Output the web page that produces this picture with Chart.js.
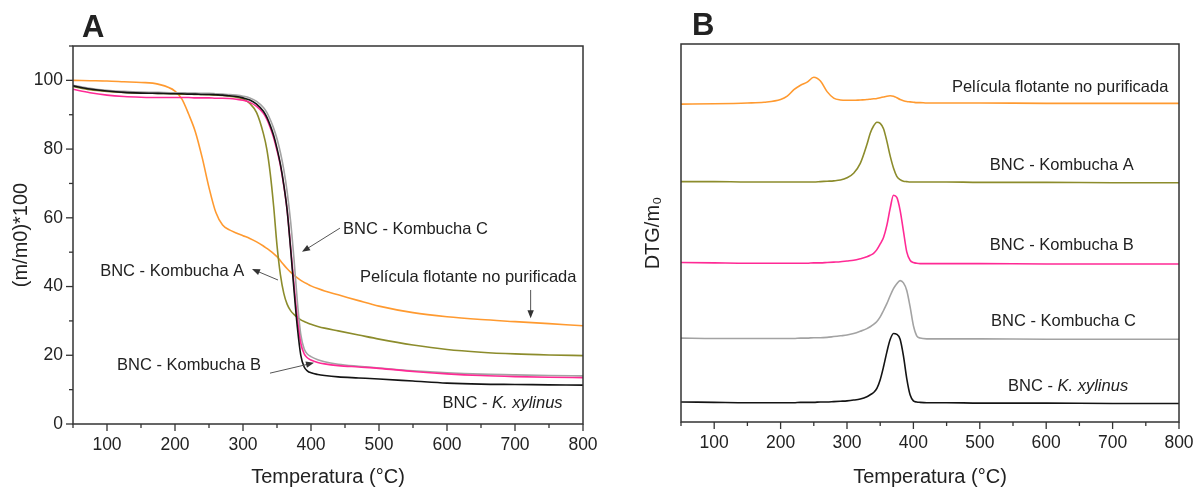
<!DOCTYPE html>
<html lang="es">
<head>
<meta charset="UTF-8">
<title>TGA / DTG</title>
<script src="https://cdn.jsdelivr.net/npm/chart.js@4.4.0/dist/chart.umd.min.js"></script>
<style>
    body { margin: 0; background: #fff; }
    .wrap { position: relative; width: 1201px; height: 491px; }
    .panel { position: absolute; top: 0; }
</style>
</head>
<body>
<div class="wrap">
    <div class="panel" style="left:0"><canvas id="chartA" width="600" height="491"></canvas></div>
    <div class="panel" style="left:600px"><canvas id="chartB" width="601" height="491"></canvas></div>
</div>
<script>
// ---- panel A: TGA, (m/m0)*100 vs temperature
const tempA = [50, 75, 100, 125, 150, 175, 200, 210, 220, 230, 240, 250, 260, 270, 280, 290, 300,
    310, 320, 330, 335, 340, 345, 350, 355, 360, 365, 370, 375, 380, 385, 390, 395, 400,
    410, 420, 440, 470, 500, 550, 600, 650, 700, 750, 800];
const tgaPelicula = [100.0, 99.9, 99.8, 99.6, 99.4, 98.9, 96.9, 94.6, 90.2, 85.0, 77.5, 68.8, 61.6, 57.9, 56.5, 55.6, 54.8,
    54.0, 53.0, 51.8, 51.1, 50.4, 49.6, 48.7, 47.5, 46.3, 45.2, 44.2, 43.3, 42.5, 41.8, 41.2, 40.7, 40.2,
    39.4, 38.7, 37.6, 35.9, 34.3, 32.4, 31.2, 30.4, 29.8, 29.2, 28.6];
const tgaKombuchaA = [98.2, 97.3, 96.8, 96.5, 96.3, 96.2, 96.1, 96.0, 96.0, 95.9, 95.9, 95.8, 95.7, 95.6, 95.4, 95.1, 94.6,
    93.3, 90.6, 84.5, 80.0, 73.0, 63.5, 52.0, 43.5, 38.0, 34.8, 33.0, 31.9, 31.0, 30.3, 29.8, 29.4, 29.0,
    28.4, 27.9, 27.1, 25.9, 24.7, 23.0, 21.7, 20.9, 20.4, 20.1, 19.9];
const tgaKombuchaB = [97.4, 96.4, 95.7, 95.3, 95.1, 95.0, 95.0, 95.0, 95.0, 94.9, 94.9, 94.9, 94.8, 94.8, 94.7, 94.5, 94.2,
    93.6, 92.4, 90.4, 88.7, 86.3, 83.4, 79.6, 75.2, 69.4, 62.0, 51.5, 40.5, 30.5, 23.5, 20.4, 19.2, 18.6,
    17.9, 17.5, 17.0, 16.6, 16.2, 15.3, 14.6, 14.1, 13.8, 13.6, 13.5];
const tgaKombuchaC = [98.6, 97.7, 97.1, 96.8, 96.6, 96.5, 96.4, 96.4, 96.3, 96.3, 96.2, 96.2, 96.1, 96.0, 95.9, 95.7, 95.4,
    94.9, 93.9, 92.1, 90.7, 88.6, 86.1, 83.0, 79.0, 74.0, 67.5, 59.0, 48.0, 35.5, 26.0, 21.8, 20.3, 19.6,
    18.7, 18.1, 17.4, 16.8, 16.3, 15.5, 14.9, 14.5, 14.3, 14.1, 14.0];
const tgaXylinus = [98.4, 97.5, 96.9, 96.5, 96.3, 96.2, 96.1, 96.1, 96.0, 96.0, 95.9, 95.9, 95.8, 95.7, 95.5, 95.3, 94.9,
    94.3, 93.1, 91.0, 89.3, 86.9, 84.0, 80.2, 75.6, 69.6, 62.0, 51.0, 39.0, 28.0, 20.0, 16.6, 15.4, 14.9,
    14.4, 14.1, 13.7, 13.4, 13.1, 12.5, 11.9, 11.6, 11.5, 11.4, 11.3];

// ---- panel B: DTG curves, stacked as in the figure (arbitrary units)
const tempB = [50, 100, 150, 175, 200, 210, 220, 230, 240, 250, 260, 270, 280, 290, 300, 310, 320, 330,
    335, 340, 345, 350, 355, 360, 365, 370, 375, 380, 385, 390, 395, 400, 405, 410,
    420, 450, 500, 600, 700, 800];
const dtgPelicula = [84.1, 84.2, 84.4, 84.6, 85.3, 86.2, 87.9, 89.1, 89.9, 91.2, 90.2, 87.4, 85.7, 85.2, 85.1, 85.1, 85.2, 85.3,
    85.4, 85.5, 85.6, 85.8, 86.0, 86.2, 86.3, 86.2, 85.8, 85.3, 85.0, 84.8, 84.7, 84.6, 84.5, 84.5,
    84.4, 84.4, 84.4, 84.3, 84.3, 84.3];
const dtgKombuchaA = [63.6, 63.6, 63.5, 63.5, 63.5, 63.5, 63.5, 63.5, 63.5, 63.5, 63.6, 63.7, 63.8, 64.0, 64.6, 65.8, 68.4, 73.4,
    76.4, 78.3, 79.3, 79.0, 77.6, 74.3, 70.4, 67.2, 65.0, 64.1, 63.7, 63.6, 63.5, 63.5, 63.5, 63.5,
    63.5, 63.5, 63.4, 63.4, 63.3, 63.3];
const dtgKombuchaB = [42.2, 42.1, 42.0, 42.0, 42.0, 42.0, 42.0, 42.0, 42.0, 42.1, 42.1, 42.2, 42.3, 42.4, 42.6, 42.8, 43.2, 43.7,
    44.1, 44.6, 45.6, 47.1, 48.8, 52.0, 56.5, 60.0, 59.4, 56.0, 50.5, 45.0, 42.8, 42.2, 42.0, 41.9,
    41.9, 41.9, 41.9, 41.8, 41.8, 41.8];
const dtgKombuchaC = [22.2, 22.1, 22.1, 22.1, 22.1, 22.1, 22.1, 22.2, 22.2, 22.3, 22.3, 22.4, 22.6, 22.8, 23.0, 23.4, 24.0, 24.7,
    25.2, 25.8, 26.6, 27.8, 29.5, 31.3, 33.4, 35.3, 36.6, 37.4, 36.8, 34.8, 30.5, 25.5, 22.8, 22.2,
    22.0, 22.0, 22.0, 21.9, 21.9, 21.9];
const dtgXylinus = [5.3, 5.2, 5.1, 5.1, 5.1, 5.1, 5.1, 5.2, 5.2, 5.2, 5.3, 5.3, 5.4, 5.5, 5.6, 5.8, 6.1, 6.7,
    7.2, 7.8, 8.9, 11.2, 14.6, 18.5, 21.8, 23.4, 23.2, 21.9, 17.5, 11.5, 7.2, 5.6, 5.3, 5.2,
    5.1, 5.1, 5.0, 5.0, 4.9, 4.9];

const FONT = '"Liberation Sans", Arial, "DejaVu Sans", sans-serif';
const INK = '#222';

function pts(xs, ys) {
    return xs.map((x, i) => ({ x: x, y: ys[i] }));
}

function line(label, xs, ys, color) {
    return {
        label: label,
        data: pts(xs, ys),
        borderColor: color,
        borderWidth: 1.6,
        pointRadius: 0,
        cubicInterpolationMode: 'monotone',
        fill: false
    };
}

// frame round the plot + outward ticks (short minor / long major)
const framePlugin = {
    id: 'frame',
    afterDatasetsDraw(chart, args, opts) {
        const { ctx, chartArea: a, scales } = chart;
        ctx.save();
        ctx.strokeStyle = '#333';
        ctx.lineWidth = 1.5;
        ctx.strokeRect(a.left, a.top, a.right - a.left, a.bottom - a.top);
        ctx.lineWidth = 1.3;
        scales.x.ticks.forEach(t => {
            const px = scales.x.getPixelForValue(t.value);
            const len = t.value % 100 === 0 ? 7 : 4;
            ctx.beginPath();
            ctx.moveTo(px, a.bottom);
            ctx.lineTo(px, a.bottom + len);
            ctx.stroke();
        });
        if (opts.yTicks) {
            scales.y.ticks.forEach(t => {
                const py = scales.y.getPixelForValue(t.value);
                const len = t.value % 20 === 0 ? 7 : 4;
                ctx.beginPath();
                ctx.moveTo(a.left, py);
                ctx.lineTo(a.left - len, py);
                ctx.stroke();
            });
        }
        ctx.restore();
    }
};

// text labels, arrows and panel letter
const notesPlugin = {
    id: 'notes',
    afterDraw(chart, args, opts) {
        const { ctx, scales } = chart;
        ctx.save();
        ctx.fillStyle = INK;
        ctx.font = 'bold 31px ' + FONT;
        ctx.textBaseline = 'alphabetic';
        ctx.fillText(opts.letter, opts.letterX, opts.letterY);

        ctx.textBaseline = 'middle';
        (opts.items || []).forEach(n => {
            let x = scales.x.getPixelForValue(n.x);
            const y = scales.y.getPixelForValue(n.y);
            n.parts.forEach(p => {
                ctx.font = (p[1] === 'italic' ? 'italic ' : '') + '16.5px ' + FONT;
                ctx.fillText(p[0], x, y);
                x += ctx.measureText(p[0]).width;
            });
            if (n.arrow) {
                const x1 = scales.x.getPixelForValue(n.arrow[0]);
                const y1 = scales.y.getPixelForValue(n.arrow[1]);
                const x2 = scales.x.getPixelForValue(n.arrow[2]);
                const y2 = scales.y.getPixelForValue(n.arrow[3]);
                const ang = Math.atan2(y2 - y1, x2 - x1);
                ctx.strokeStyle = '#555';
                ctx.lineWidth = 1;
                ctx.beginPath();
                ctx.moveTo(x1, y1);
                ctx.lineTo(x2 - 6 * Math.cos(ang), y2 - 6 * Math.sin(ang));
                ctx.stroke();
                ctx.fillStyle = '#333';
                ctx.beginPath();
                ctx.moveTo(x2, y2);
                ctx.lineTo(x2 - 8 * Math.cos(ang) + 3.2 * Math.sin(ang), y2 - 8 * Math.sin(ang) - 3.2 * Math.cos(ang));
                ctx.lineTo(x2 - 8 * Math.cos(ang) - 3.2 * Math.sin(ang), y2 - 8 * Math.sin(ang) + 3.2 * Math.cos(ang));
                ctx.closePath();
                ctx.fill();
                ctx.fillStyle = INK;
            }
        });
        ctx.restore();
    }
};

function noEdgePadding(s) {
    s.paddingLeft = 0;
    s.paddingRight = 0;
    s.paddingTop = 0;
    s.paddingBottom = 0;
}

function xScale(height) {
    return {
        type: 'linear',
        min: 50,
        max: 800,
        grid: { display: false, drawTicks: false },
        border: { display: false },
        ticks: {
            stepSize: 50,
            autoSkip: false,
            maxRotation: 0,
            padding: 11,
            color: INK,
            font: { family: FONT, size: 17.5 },
            callback: v => (v % 100 === 0 ? String(v) : '')
        },
        title: {
            display: true,
            text: 'Temperatura (°C)',
            color: INK,
            font: { family: FONT, size: 20 },
            padding: { top: 0, bottom: 2 }
        },
        afterFit: s => { s.height = height; noEdgePadding(s); }
    };
}

const chartA = new Chart(document.getElementById('chartA'), {
    type: 'line',
    data: {
        datasets: [
            line('BNC - K. xylinus', tempA, tgaXylinus, '#141414'),
            line('BNC - Kombucha B', tempA, tgaKombuchaB, '#ff2a95'),
            line('BNC - Kombucha C', tempA, tgaKombuchaC, '#a3a3a3'),
            line('BNC - Kombucha A', tempA, tgaKombuchaA, '#8c8c2c'),
            line('Película flotante no purificada', tempA, tgaPelicula, '#ff9a30')
        ]
    },
    options: {
        responsive: false,
        animation: false,
        devicePixelRatio: 1,
        layout: { padding: { top: 46, right: 17, left: 0, bottom: 0 } },
        plugins: {
            legend: { display: false },
            tooltip: { enabled: false },
            frame: { yTicks: true },
            notes: {
                letter: 'A', letterX: 82, letterY: 37,
                items: [
                    { x: 447, y: 56.5, parts: [['BNC - Kombucha C', 'normal']], arrow: [442.6, 57, 386.8, 50.1] },
                    { x: 90, y: 44.5, parts: [['BNC - Kombucha A', 'normal']], arrow: [351.5, 41.9, 313.2, 45.1] },
                    { x: 472, y: 42.7, parts: [['Película flotante no purificada', 'normal']], arrow: [723, 39, 723, 30.8] },
                    { x: 114.7, y: 16.9, parts: [['BNC - Kombucha B', 'normal']], arrow: [339.7, 14.8, 404.4, 17.8] },
                    { x: 593.4, y: 6, parts: [['BNC - ', 'normal'], ['K. xylinus', 'italic']] }
                ]
            }
        },
        scales: {
            x: xScale(67),
            y: {
                type: 'linear',
                min: 0,
                max: 110,
                grid: { display: false, drawTicks: false },
                border: { display: false },
                ticks: {
                    stepSize: 10,
                    padding: 10,
                    color: INK,
                    font: { family: FONT, size: 17.5 },
                    callback: v => (v % 20 === 0 ? String(v) : '')
                },
                title: {
                    display: true,
                    text: '(m/m0)*100',
                    color: INK,
                    font: { family: FONT, size: 20 },
                    padding: { top: 9, bottom: 0 }
                },
                afterFit: s => { s.width = 73; noEdgePadding(s); }
            }
        }
    },
    plugins: [framePlugin, notesPlugin]
});

const chartB = new Chart(document.getElementById('chartB'), {
    type: 'line',
    data: {
        datasets: [
            line('BNC - K. xylinus', tempB, dtgXylinus, '#141414'),
            line('BNC - Kombucha C', tempB, dtgKombuchaC, '#a3a3a3'),
            line('BNC - Kombucha B', tempB, dtgKombuchaB, '#ff2a95'),
            line('BNC - Kombucha A', tempB, dtgKombuchaA, '#8c8c2c'),
            line('Película flotante no purificada', tempB, dtgPelicula, '#ff9a30')
        ]
    },
    options: {
        responsive: false,
        animation: false,
        devicePixelRatio: 1,
        layout: { padding: { top: 44, right: 22, left: 0, bottom: 0 } },
        plugins: {
            legend: { display: false },
            tooltip: { enabled: false },
            frame: { yTicks: false },
            notes: {
                letter: 'B', letterX: 92, letterY: 35,
                items: [
                    { x: 458, y: 88.6, parts: [['Película flotante no purificada', 'normal']] },
                    { x: 515, y: 67.8, parts: [['BNC - Kombucha A', 'normal']] },
                    { x: 515, y: 46.8, parts: [['BNC - Kombucha B', 'normal']] },
                    { x: 517, y: 26.5, parts: [['BNC - Kombucha C', 'normal']] },
                    { x: 542.5, y: 9.3, parts: [['BNC - ', 'normal'], ['K. xylinus', 'italic']] }
                ]
            }
        },
        scales: {
            x: xScale(69),
            y: {
                type: 'linear',
                min: 0,
                max: 100,
                grid: { display: false, drawTicks: false },
                border: { display: false },
                ticks: { display: false },
                title: {
                    display: true,
                    text: 'DTG/m₀',
                    color: INK,
                    font: { family: FONT, size: 20 },
                    padding: { top: 41, bottom: 0 }
                },
                afterFit: s => { s.width = 81; noEdgePadding(s); }
            }
        }
    },
    plugins: [framePlugin, notesPlugin]
});
</script>
</body>
</html>
